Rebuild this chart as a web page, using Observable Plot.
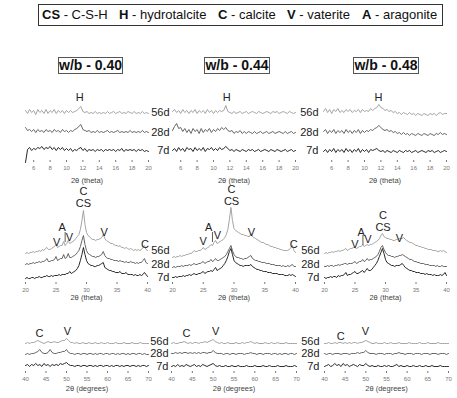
<!DOCTYPE html>
<html><head><meta charset="utf-8">
<script src="https://cdn.jsdelivr.net/npm/d3@7"></script>
<script src="https://cdn.jsdelivr.net/npm/@observablehq/plot@0.6"></script>
<style>
body{margin:0;background:#fff;font-family:"Liberation Sans",Arial,sans-serif;}
#root{position:relative;width:457px;height:398px;overflow:hidden;background:#fff}
.legend{position:absolute;left:38px;top:4px;width:405px;height:22px;border:1px solid #333;box-sizing:border-box}
.lg{position:absolute;top:7px;font-size:13px;line-height:15px;color:#111;white-space:nowrap}
.title{position:absolute;top:57px;height:17px;box-sizing:border-box;border:1px solid #555;font-size:14px;font-weight:bold;line-height:15px;text-align:center;color:#111;white-space:nowrap}
</style></head><body><div id="root">
<div class="legend"></div>
<div class="lg" style="left:42px"><b>CS</b> - C-S-H</div>
<div class="lg" style="left:119px"><b>H</b> - hydrotalcite</div>
<div class="lg" style="left:218px"><b>C</b> - calcite</div>
<div class="lg" style="left:287px"><b>V</b> - vaterite</div>
<div class="lg" style="left:362px"><b>A</b> - aragonite</div>
</div>
<script>
// ---------- data ----------
const days = ["56d", "28d", "7d"];
const titles = ["w/b - 0.40", "w/b - 0.44", "w/b - 0.48"];

// top row: 2θ 5–20, step 0.25 (relative intensity, a.u.)
const topOffsets = [[48, 29, 10], [48, 28, 10], [48, 27, 9]];
const top40_56 = [2,-1,3,0,2,-2,3,0,2,-1,3,-1,2,0,3,-1,2,0,2,-1,2,0,2,0,1,2,4,6,1,0,1,-1,0,-1,1,-1,0,-1,0,-1,1,-1,0,1,-1,0,1,-1,0,-1,1,0,-1,1,-1,0,-1,1,-1,0,-1];
const top40_28 = [4,1,2,0,2,-1,2,0,1,-1,2,0,1,-1,2,0,1,-1,2,0,1,-1,1,0,2,3,5,7,2,1,0,1,-1,0,-1,1,-1,0,-1,0,1,-1,0,-1,0,1,-1,0,-1,0,-1,1,-1,0,-1,0,-1,1,-1,0,-1];
const top40_7 = [-12,1,3,0,2,1,3,2,4,1,3,2,4,1,3,0,3,1,3,0,2,0,2,-1,1,0,2,3,0,2,-1,1,0,1,-1,1,0,1,-1,1,0,1,0,1,-1,1,0,2,-1,1,0,1,0,1,-1,1,0,1,-1,0,-1];
const top44_56 = [1,3,0,2,-1,3,0,2,-1,2,0,3,-1,2,0,2,-1,3,0,2,-1,2,0,2,1,2,7,1,0,-1,1,-1,0,1,-1,0,1,-1,0,1,0,-1,1,0,-1,0,1,0,-1,1,0,1,-1,0,1,0,-1,1,0,-1,0];
const top44_28 = [2,6,9,4,5,1,4,0,3,-1,4,1,3,-1,4,0,3,1,4,0,3,1,4,2,5,3,5,2,1,2,-1,1,0,2,-1,1,-1,1,0,-1,1,-1,0,1,-1,0,1,-1,0,1,-1,0,1,0,-1,1,-1,0,1,-1,0];
const top44_7 = [0,2,-1,3,0,2,-1,3,1,2,-1,3,0,2,0,3,-1,2,1,3,0,2,0,3,1,2,4,2,0,1,-1,1,0,-1,1,0,-1,1,0,1,-1,0,1,-1,0,1,0,-1,1,0,-1,1,0,-1,0,1,-1,0,1,-1,0];
const top48_56 = [1,4,0,3,-1,3,1,4,0,2,0,3,1,3,0,2,1,3,0,3,1,2,1,4,2,4,5,8,5,4,2,3,1,2,0,1,-1,0,-2,0,-1,-2,0,-2,-1,-3,-1,-2,-3,-1,-2,-3,-1,-2,-1,-3,-1,0,-2,-1,-1];
const top48_28 = [2,4,0,3,1,4,0,3,1,3,0,4,1,3,0,3,1,4,0,3,1,3,2,4,3,5,6,8,6,4,3,4,2,3,1,2,0,1,-1,1,-1,0,-2,0,-1,-2,0,-1,-2,0,-1,-2,0,-1,-2,0,-1,1,-1,0,-1];
const top48_7 = [0,2,-1,2,0,3,-1,2,0,2,-1,3,0,2,-1,2,0,3,-1,2,0,2,-1,2,1,2,3,1,0,1,-1,1,0,-1,1,0,-1,1,0,-1,1,0,1,-1,0,1,-1,0,1,0,-1,1,0,1,-1,0,1,-1,0,1,0];

// middle row: 2θ 20–40, step 0.25 (stacked intensity, a.u.)
const mid40_56 = [29,30,29,30,30,31,30,31,31,32,31,33,32,34,35,33,33,34,35,36,38,35,36,37,37,41,37,39,42,39,40,41,42,44,46,48,53,62,72,58,50,47,46,44,43,43,42,43,43,44,45,48,44,42,41,40,39,39,38,37,37,36,37,35,35,34,35,34,33,34,33,32,33,32,33,32,33,35,37,33,32];
const mid40_28 = [18,19,18,19,19,20,19,20,20,21,20,21,21,22,24,21,21,22,22,23,26,22,23,24,24,28,24,25,29,25,25,26,27,28,30,32,36,42,47,38,32,29,28,27,26,26,25,26,26,27,28,31,27,25,24,24,23,23,22,22,22,21,22,21,21,20,21,20,20,21,20,20,19,20,19,20,20,22,24,20,19];
const mid40_7 = [4,5,4,4,5,5,4,5,5,6,5,5,6,6,7,6,6,7,6,7,7,7,8,7,8,8,8,9,9,11,9,10,11,12,14,17,22,28,35,28,22,19,18,17,17,16,16,17,17,18,19,20,15,14,13,12,12,11,11,10,10,10,11,9,9,9,10,8,8,8,8,7,8,7,7,8,7,8,10,8,6];
const mid44_56 = [25,26,25,26,26,27,26,27,27,28,28,29,29,30,32,31,31,32,32,33,35,33,34,35,36,38,37,40,42,39,40,41,42,43,45,48,53,63,75,62,54,52,51,50,49,48,48,47,47,46,46,49,46,45,44,43,42,41,40,40,39,38,38,37,36,36,35,35,34,34,33,33,32,32,32,32,33,35,37,32,30];
const mid44_28 = [15,16,15,16,16,16,17,16,17,17,17,18,17,18,19,18,18,19,19,20,21,19,20,21,21,23,21,22,24,22,22,23,24,25,26,28,31,34,37,32,28,26,25,25,24,24,23,24,24,25,26,27,24,23,22,22,21,21,20,20,20,19,19,19,18,18,18,17,17,17,17,16,17,16,16,17,16,17,18,16,16];
const mid44_7 = [5,5,6,5,6,6,6,7,6,7,7,8,7,8,9,8,8,9,9,10,11,9,10,11,11,12,11,13,15,12,13,14,15,17,19,22,26,31,34,28,22,20,19,18,17,17,16,17,17,17,17,18,16,15,14,13,13,12,12,11,11,11,10,10,10,9,9,9,9,8,8,8,8,7,7,7,8,7,8,7,6];
const mid48_56 = [29,30,29,30,30,31,30,31,31,32,31,32,32,33,34,32,33,34,34,35,35,34,35,36,36,38,36,37,38,37,38,38,39,40,41,42,44,47,49,46,45,44,44,43,43,42,42,43,43,44,44,44,45,43,42,41,40,40,39,38,37,37,36,36,35,35,34,34,33,33,33,32,32,32,31,31,32,31,32,31,30];
const mid48_28 = [16,16,17,16,17,17,16,17,17,18,17,18,18,19,19,18,19,19,19,20,21,19,20,21,21,23,21,22,24,22,23,23,24,25,26,28,31,35,37,33,30,28,27,27,26,26,25,26,26,27,27,28,27,26,25,24,23,23,22,21,21,20,20,19,19,19,18,18,18,17,17,17,17,16,17,16,16,17,16,16,16];
const mid48_7 = [5,4,5,5,6,5,6,6,5,7,6,7,7,8,10,7,8,8,9,10,11,9,9,10,11,12,10,12,14,12,12,13,15,17,19,22,26,30,34,29,23,20,19,18,17,17,16,17,17,17,18,19,17,15,14,13,12,12,11,11,10,10,10,9,9,9,8,9,8,8,8,7,8,7,7,7,8,7,8,10,7];

// bottom row: 2θ 40–70, step 0.5 (stacked intensity, a.u.)
const bot40_56 = [28,29,28,29,29,30,31,30,29,28,29,30,29,29,30,29,29,30,31,31,33,31,29,29,28,29,28,28,29,28,28,29,28,28,29,28,28,29,28,28,29,28,28,28,29,28,28,28,29,28,28,28,29,28,28,28,29,28,28,28,28];
const bot40_28 = [17,18,17,18,18,19,20,22,19,18,18,19,22,19,18,18,19,19,20,20,22,19,18,18,17,18,18,17,18,18,17,18,18,17,18,17,18,18,17,18,18,17,18,18,17,18,17,18,18,17,18,17,18,18,17,18,18,17,18,17,17];
const bot40_7 = [6,7,5,7,6,8,6,7,5,8,6,7,5,7,6,7,6,8,7,8,9,7,6,6,5,6,6,5,6,6,5,6,6,5,6,5,6,6,5,6,6,5,6,5,6,6,5,6,5,6,6,5,6,6,5,6,5,6,6,5,6];
const bot44_56 = [28,29,28,28,29,29,30,29,28,29,28,29,29,28,29,29,30,29,30,31,32,30,29,28,29,28,28,29,28,28,28,29,28,28,29,28,29,29,30,29,28,29,28,28,28,29,28,28,29,28,28,29,28,28,28,29,28,28,28,28,28];
const bot44_28 = [18,18,19,18,19,18,19,19,18,19,18,19,18,19,18,19,19,18,19,19,21,19,18,18,18,17,18,18,17,18,18,17,18,18,18,17,18,18,19,18,18,17,18,18,17,18,18,18,17,18,18,17,18,17,18,18,17,18,18,17,18];
const bot44_7 = [5,6,5,7,5,6,5,7,6,5,6,7,5,6,5,7,6,5,6,7,8,6,5,6,5,5,6,5,5,6,5,5,6,5,5,5,6,5,5,5,6,5,5,5,6,5,5,6,5,5,5,6,5,5,5,6,5,5,5,6,5];
const bot48_56 = [28,28,29,28,28,29,28,29,29,28,29,28,29,28,29,29,28,29,29,30,31,30,29,28,28,29,28,28,28,29,28,28,29,28,28,28,29,28,28,28,28,29,28,28,28,28,29,28,28,28,29,28,28,28,28,29,28,28,28,28,28];
const bot48_28 = [18,17,18,18,17,18,18,18,17,18,18,18,17,18,18,18,19,18,19,19,21,19,18,18,18,17,18,18,18,17,18,18,18,17,18,18,19,18,18,17,18,18,18,17,18,18,18,17,18,18,18,17,18,18,18,17,18,18,18,17,18];
const bot48_7 = [5,6,7,5,6,8,6,7,5,8,6,7,5,6,7,6,5,7,6,6,8,6,5,6,5,5,6,5,5,6,5,6,5,5,6,7,5,6,5,5,6,5,5,6,5,5,6,5,5,6,5,5,6,5,5,5,6,5,5,5,5];

// peak labels (2θ, intensity a.u.)
const topAnn = [[{t:"H",x:11.6,y:63}], [{t:"H",x:11.6,y:63}], [{t:"H",x:11.7,y:63}]];
const midAnn = [
  [{t:"C",x:29.5,y:91},{t:"CS",x:29.5,y:79},{t:"A",x:26.0,y:55},{t:"V",x:25.1,y:40},{t:"V",x:27.2,y:45},{t:"V",x:32.9,y:50},{t:"C",x:39.6,y:38}],
  [{t:"C",x:29.6,y:93},{t:"CS",x:29.6,y:81},{t:"A",x:25.9,y:55},{t:"V",x:25.0,y:41},{t:"V",x:27.3,y:47},{t:"V",x:32.85,y:50},{t:"C",x:39.7,y:38}],
  [{t:"C",x:29.6,y:67},{t:"CS",x:29.6,y:55},{t:"A",x:26.0,y:50},{t:"V",x:25.0,y:38},{t:"V",x:27.1,y:43},{t:"V",x:32.3,y:44}]
];
const midBars = [[{x:26.5,y1:40,y2:50}], [{x:26.5,y1:40,y2:50}], [{x:26.3,y1:37,y2:47}]];
const botAnn = [
  [{t:"C",x:43.4,y:38},{t:"V",x:50.2,y:40}],
  [{t:"C",x:43.6,y:38},{t:"V",x:50.6,y:40}],
  [{t:"C",x:43.9,y:35},{t:"V",x:49.9,y:40}]
];
const dayLevels = [[48, 28, 10], [32, 18, 5], [30, 18, 5]];

// ---------- layout ----------
const FONT = '"Liberation Sans", Arial, sans-serif';
const rows = [
  {start:5, step:0.25, domain:[5,20], ticks:[6,8,10,12,14,16,18,20], label:"2θ (theta)", top:86, mt:4, fh:70, mb:30, labelDy:22,
   cols:[{left:0,w:152,ml:25,mr:4},{left:150,w:152,ml:22,mr:7},{left:300,w:157,ml:23,mr:11}],
   series:[[top40_56,top40_28,top40_7],[top44_56,top44_28,top44_7],[top48_56,top48_28,top48_7]],
   offsets: topOffsets, ann: topAnn, bars: [[],[],[]]},
  {start:20, step:0.25, domain:[20,40], ticks:[20,25,30,35,40], label:"2θ (theta)", top:183, mt:5, fh:94, mb:22, labelDy:17,
   cols:[{left:0,w:152,ml:25,mr:5},{left:150,w:152,ml:22,mr:7},{left:300,w:157,ml:24,mr:11}],
   series:[[mid40_56,mid40_28,mid40_7],[mid44_56,mid44_28,mid44_7],[mid48_56,mid48_28,mid48_7]],
   offsets: [[0,0,0],[0,0,0],[0,0,0]], ann: midAnn, bars: midBars},
  {start:40, step:0.5, domain:[40,70], ticks:[40,45,50,55,60,65,70], label:"2θ (degrees)", top:321, mt:4, fh:46, mb:24, labelDy:19,
   cols:[{left:0,w:152,ml:25,mr:4},{left:150,w:152,ml:21,mr:6},{left:300,w:157,ml:24,mr:9}],
   series:[[bot40_56,bot40_28,bot40_7],[bot44_56,bot44_28,bot44_7],[bot48_56,bot48_28,bot48_7]],
   offsets: [[0,0,0],[0,0,0],[0,0,0]], ann: botAnn, bars: [[],[],[]]}
];
const colors = ["#9a9a9a", "#555555", "#111111"];
const dayDx = [0, -3, -5];

const root = document.getElementById("root");

// titles
[[58,65],[204,66],[353,66]].forEach(([l,w], i) => {
  const d = document.createElement("div");
  d.className = "title";
  d.style.left = l + "px"; d.style.width = w + "px";
  d.textContent = titles[i];
  root.appendChild(d);
});

rows.forEach((row, ri) => {
  row.cols.forEach((col, ci) => {
    const marks = [];
    row.series[ci].forEach((arr, si) => {
      const off = row.offsets[ci][si];
      const data = arr.map((v, i) => ({x: row.start + i * row.step, y: off + v}));
      marks.push(Plot.line(data, {x: "x", y: "y", stroke: colors[si], strokeWidth: 0.9}));
    });
    if (row.bars[ci].length)
      marks.push(Plot.ruleX(row.bars[ci], {x: "x", y1: "y1", y2: "y2", stroke: "#333", strokeWidth: 0.8}));
    marks.push(Plot.text(row.ann[ci], {x: "x", y: "y", text: "t", fontSize: 11, fill: "#222", fontFamily: FONT}));
    if (ci > 0) {
      const dl = days.map((t, k) => ({t, x: row.domain[0], y: dayLevels[ri][k]}));
      marks.push(Plot.text(dl, {x: "x", y: "y", text: "t", textAnchor: "end", dx: dayDx[ci], fontSize: 11, fill: "#222", fontFamily: FONT}));
    }
    marks.push(Plot.text([row.label], {text: d => d, frameAnchor: "bottom", dy: row.labelDy, fontSize: 7.5, fill: "#444", fontFamily: FONT}));
    const svg = Plot.plot({
      width: col.w, height: row.mt + row.fh + row.mb,
      marginLeft: col.ml, marginRight: col.mr, marginTop: row.mt, marginBottom: row.mb,
      style: {background: "none", overflow: "visible", fontSize: "6px", color: "#777", fontFamily: FONT},
      x: {domain: row.domain, ticks: row.ticks, tickSize: 2, tickPadding: 3, label: null},
      y: {domain: [0, row.fh], axis: null},
      marks
    });
    svg.style.position = "absolute";
    svg.style.left = col.left + "px";
    svg.style.top = row.top + "px";
    root.appendChild(svg);
  });
});
</script></body></html>
